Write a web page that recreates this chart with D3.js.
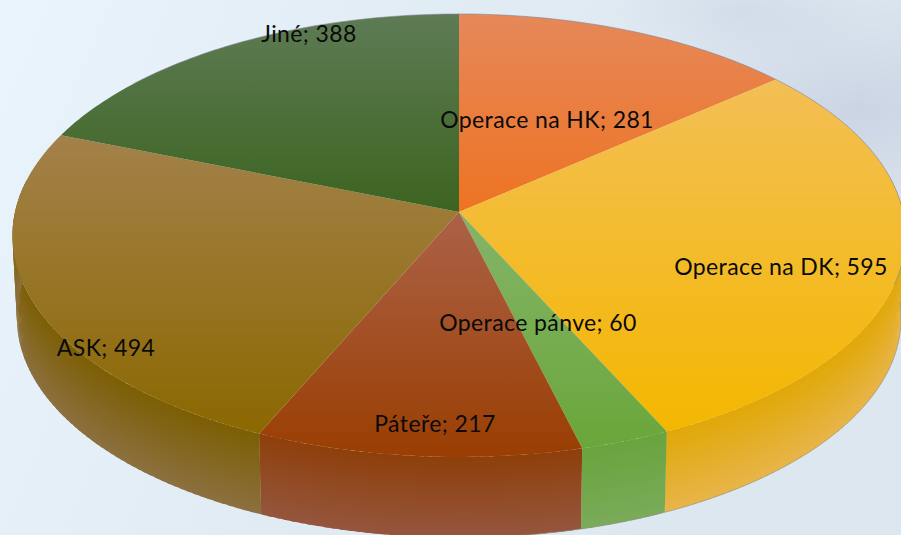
<!DOCTYPE html>
<html>
<head>
<meta charset="utf-8">
<script src="https://cdn.jsdelivr.net/npm/d3@7"></script>
<style>
html, body { margin: 0; padding: 0; background: #e6eff7; }
svg { display: block; }
text { font-family: Lato, "Open Sans", sans-serif; font-size: 23px; letter-spacing: 0.4px; fill: #0a0a0a; }
</style>
</head>
<body>
<svg id="chart" width="901" height="535"></svg>
<script>
// data
var categories = ["Operace na HK", "Operace na DK", "Operace pánve", "Páteře", "ASK", "Jiné"];
var values = [281, 595, 60, 217, 494, 388];

// colours: light end / full colour of the top face, then side top / side bottom
var topLight = ["#e6885a", "#f3bf55", "#84b568", "#ac6248", "#a3814a", "#5e7b55"];
var topFull = ["#ee7322", "#f4b700", "#6aa63a", "#9a3e02", "#8b6800", "#3c6420"];
var sideDark = ["#dc6a20", "#e0a806", "#69a43d", "#8e3f0a", "#7c5e02", "#38601e"];
var sideLight = ["#e6884f", "#e8b54c", "#7aab5a", "#95563e", "#8c7040", "#5e7b55"];

// pie is seen in perspective: circle -> ellipse through this projection
var cx = 459, cy = 212, rx = 444, ry = 219, persp = 0.106;
var depth = 83, shrink = 0.99;

function project(a, lower) {
    var u = Math.sin(a), v = -Math.cos(a);
    var w = 1 - persp * v;
    var x = rx * u / w, y = ry * v / w;
    if (lower) {
        return [cx + x * shrink, cy + y * shrink + depth];
    }
    return [cx + x, cy + y];
}

var svg = d3.select("#chart");
var defs = svg.append("defs");

// background
var bg = defs.append("linearGradient").attr("id", "bg")
    .attr("x1", 0).attr("y1", 0).attr("x2", 1).attr("y2", 0.25);
bg.append("stop").attr("offset", 0).attr("stop-color", "#e9f4fc");
bg.append("stop").attr("offset", 0.5).attr("stop-color", "#e1ebf4");
bg.append("stop").attr("offset", 1).attr("stop-color", "#dde7ef");
var blot = defs.append("radialGradient").attr("id", "blot")
    .attr("cx", 0.5).attr("cy", 0.5).attr("r", 0.5);
blot.append("stop").attr("offset", 0).attr("stop-color", "#c9d1e2").attr("stop-opacity", 0.85);
blot.append("stop").attr("offset", 1).attr("stop-color", "#c9d1e2").attr("stop-opacity", 0);

svg.append("rect").attr("width", 901).attr("height", 535).attr("fill", "url(#bg)");
svg.append("ellipse").attr("cx", 860).attr("cy", 110).attr("rx", 230).attr("ry", 130).attr("fill", "url(#blot)");
svg.append("ellipse").attr("cx", 740).attr("cy", 10).attr("rx", 130).attr("ry", 55).attr("fill", "url(#blot)").attr("opacity", 0.6);

// gradients, one pair per category; each one spans its own slice
categories.forEach(function (c, i) {
    var g = defs.append("linearGradient").attr("id", "top" + i)
        .attr("x1", 0).attr("x2", 0).attr("y1", 0).attr("y2", 1);
    g.append("stop").attr("offset", 0).attr("stop-color", topLight[i]);
    g.append("stop").attr("offset", 1).attr("stop-color", topFull[i]);

    var s = defs.append("linearGradient").attr("id", "side" + i)
        .attr("x1", 0).attr("x2", 0).attr("y1", 0).attr("y2", 1);
    s.append("stop").attr("offset", 0).attr("stop-color", sideDark[i]);
    s.append("stop").attr("offset", 1).attr("stop-color", sideLight[i]);
});

var pie = d3.pie().sort(null).startAngle(0).endAngle(2 * Math.PI);
var arcs = pie(values);
var line = d3.line();
var step = Math.PI / 180;

function rimPoints(start, end, lower) {
    var pts = [];
    var n = Math.max(2, Math.ceil((end - start) / step));
    for (var i = 0; i <= n; i++) {
        pts.push(project(start + (end - start) * i / n, lower));
    }
    return pts;
}

// side wall as thin strips so each has its own top to bottom fade
var sides = svg.append("g");
arcs.forEach(function (d) {
    for (var a = d.startAngle; a < d.endAngle; a += step) {
        var b = Math.min(a + step * 1.5, d.endAngle);
        var t = Math.cos((a + b) / 2);
        if (t > 0.15) continue; // back of the pie, hidden anyway
        var up = rimPoints(a, b, false);
        var down = rimPoints(a, b, true).reverse();
        sides.append("path")
            .attr("d", line(up.concat(down)) + "Z")
            .attr("fill", "url(#side" + d.index + ")");
    }
});

// top face
svg.append("g").selectAll("path").data(arcs).join("path")
    .attr("d", function (d) {
        return line([[cx, cy]].concat(rimPoints(d.startAngle, d.endAngle, false))) + "Z";
    })
    .attr("fill", function (d) { return "url(#top" + d.index + ")"; });

// thin grey rim, visible on the right side mostly
svg.append("path")
    .attr("d", line(rimPoints(-0.9, 1.9, false)))
    .attr("fill", "none").attr("stroke", "#7d8590").attr("stroke-width", 0.6);
svg.append("path")
    .attr("d", line(rimPoints(1.6, 3.14, true)))
    .attr("fill", "none").attr("stroke", "#8d8d80").attr("stroke-width", 0.6);

// labels sit where the original left them, not on a fixed radius
var labelX = [547, 781, 538, 435, 106, 309];
var labelY = [119, 266, 322, 423, 347, 33];

svg.append("g").selectAll("text").data(arcs).join("text")
    .attr("x", function (d) { return labelX[d.index]; })
    .attr("y", function (d) { return labelY[d.index]; })
    .attr("text-anchor", "middle")
    .attr("dominant-baseline", "central")
    .text(function (d) { return categories[d.index] + "; " + d.value; });
</script>
</body>
</html>
